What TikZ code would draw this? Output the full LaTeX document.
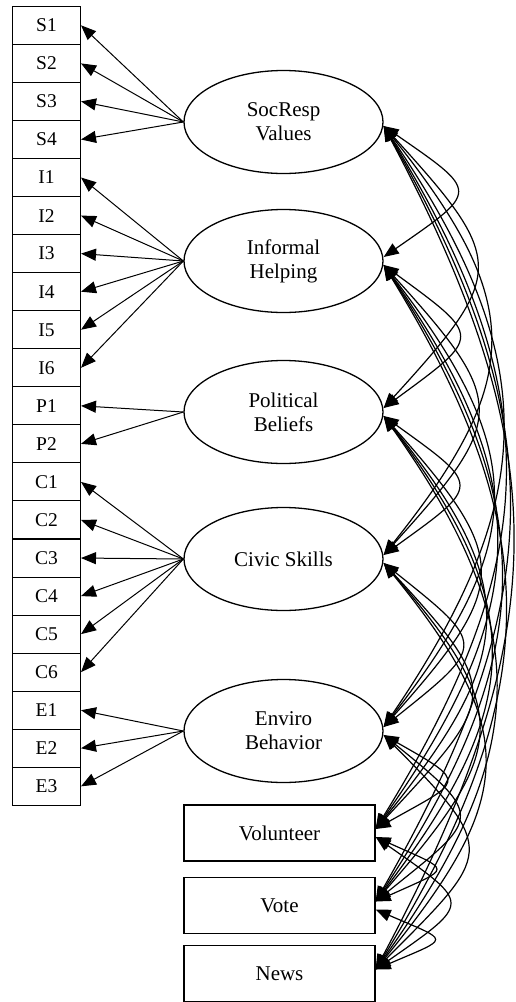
\documentclass[tikz,border=0pt]{standalone}
\usepackage{fontspec}
\setmainfont{Liberation Serif}
\usetikzlibrary{shapes.geometric,arrows.meta}
\tikzset{
  ind/.style={draw, line width=1pt, rectangle, minimum width=68pt, minimum height=38pt, inner sep=0pt, font=\fontsize{19.5}{22}\selectfont},
  lat/.style={draw, ellipse, line width=1.3pt, minimum width=199pt, minimum height=103pt, inner sep=0pt, align=center, font=\fontsize{21}{24}\selectfont},
  obs/.style={draw, rectangle, line width=1.3pt, minimum width=191pt, minimum height=56pt, inner sep=0pt, font=\fontsize{21}{24}\selectfont},
  load/.style={line width=1pt, -{Triangle[length=15pt,width=12pt]}},
  corr/.style={line width=1.2pt, {Triangle[length=15pt,width=12pt]}-{Triangle[length=15pt,width=12pt]}}
}
\begin{document}
\begin{tikzpicture}[x=1pt,y=-1pt]
\useasboundingbox (0,0) rectangle (516,1002);
% indicator boxes
\foreach \t [count=\i from 0] in {S1,S2,S3,S4,I1,I2,I3,I4,I5,I6,P1,P2,C1,C2,C3,C4,C5,C6,E1,E2,E3}
  \node[ind] (\t) at (46.5,{6.3+38.05*\i+19.025}) {\t};
% latent variables
\node[lat] (SR) at (283.5,122) {SocResp\\Values};
\node[lat] (IH) at (283.5,261) {Informal\\Helping};
\node[lat] (PB) at (283.5,412) {Political\\Beliefs};
\node[lat] (CS) at (283.5,559) {Civic Skills};
\node[lat] (EB) at (283.5,731) {Enviro\\Behavior};
% observed outcomes
\node[obs] (VO) at (279.5,833) {Volunteer};
\node[obs] (VT) at (279.5,905.5) {Vote};
\node[obs] (NW) at (279.5,973.5) {News};
% loadings
\foreach \t in {S1,S2,S3,S4} \draw[load] (SR.west) -- (\t.east);
\foreach \t in {I1,I2,I3,I4,I5,I6} \draw[load] (IH.west) -- (\t.east);
\foreach \t in {P1,P2} \draw[load] (PB.west) -- (\t.east);
\foreach \t in {C1,C2,C3,C4,C5,C6} \draw[load] (CS.west) -- (\t.east);
\foreach \t in {E1,E2,E3} \draw[load] (EB.west) -- (\t.east);
% covariances
\foreach \a/\ya [count=\i] in {SR/122,IH/261,PB/412,CS/559,EB/731,VO/833,VT/906,NW/974}{
  \foreach \b/\yb [count=\j] in {SR/122,IH/261,PB/412,CS/559,EB/731,VO/833,VT/906,NW/974}{
    \ifnum\j>\i
      \pgfmathsetmacro\rr{(\yb-\ya)/139}
      \pgfmathsetmacro\hh{72*exp(0.337*ln(\rr))/0.75}
      \pgfmathsetmacro\vv{min(\hh*tan(42+(\yb-\ya-68)/785*20),0.48*(\yb-\ya))}
      \draw[corr] ([yshift=-4pt]\a.east) .. controls +(\hh pt,-\vv pt) and +(\hh pt,\vv pt) .. ([yshift=4pt]\b.east);
    \fi
  }
}
\end{tikzpicture}
\end{document}
